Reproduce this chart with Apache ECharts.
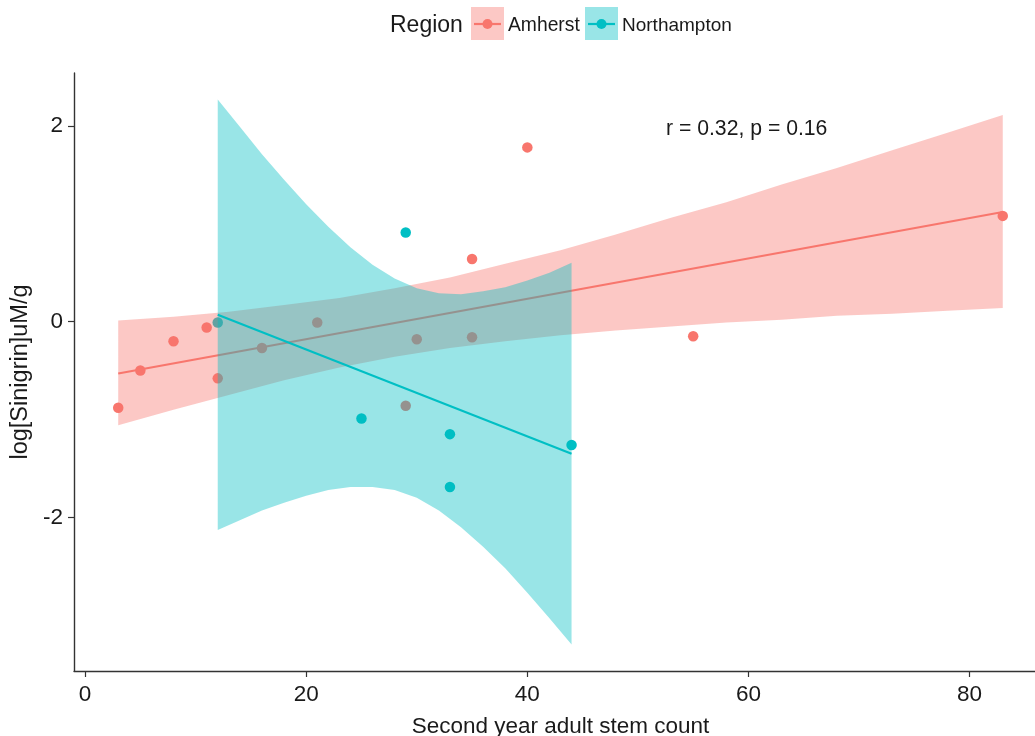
<!DOCTYPE html>
<html>
<head>
<meta charset="utf-8">
<script src="https://cdn.jsdelivr.net/npm/echarts@6/dist/echarts.min.js"></script>
<style>
  html, body { margin: 0; padding: 0; background: #ffffff; }
  #chart { width: 1035px; height: 736px; }
</style>
</head>
<body>
<div id="chart"></div>
<script>
// Observations per region
const amherstX = [3, 5, 8, 11, 12, 16, 21, 29, 30, 35, 35, 40, 55, 83];
const amherstY = [-0.88, -0.50, -0.20, -0.06, -0.58, -0.27, -0.01, -0.86, -0.18, -0.16, 0.64, 1.78, -0.15, 1.08];
const northX = [12, 25, 29, 33, 33, 44];
const northY = [-0.01, -0.99, 0.91, -1.15, -1.69, -1.26];

// Linear fit end points
const amherstFitX = [3, 83];
const amherstFitY = [-0.53, 1.12];
const northFitX = [12, 44];
const northFitY = [0.07, -1.35];

// 95% confidence bands
const amherstBandX = [3, 8, 13, 18, 23, 28, 33, 38, 43, 48, 53, 58, 63, 68, 73, 78, 83];
const amherstBandUpper = [0.01, 0.05, 0.10, 0.17, 0.24, 0.34, 0.45, 0.59, 0.73, 0.89, 1.06, 1.22, 1.40, 1.57, 1.75, 1.93, 2.11];
const amherstBandLower = [-1.06, -0.90, -0.75, -0.60, -0.47, -0.36, -0.27, -0.20, -0.14, -0.09, -0.05, -0.01, 0.02, 0.06, 0.08, 0.11, 0.14];
const northBandX = [12, 14, 16, 18, 20, 22, 24, 26, 28, 30, 32, 34, 36, 38, 40, 42, 44];
const northBandUpper = [2.27, 1.99, 1.71, 1.45, 1.20, 0.97, 0.76, 0.58, 0.44, 0.34, 0.29, 0.28, 0.31, 0.35, 0.42, 0.50, 0.60];
const northBandLower = [-2.13, -2.03, -1.93, -1.85, -1.78, -1.72, -1.69, -1.69, -1.72, -1.80, -1.93, -2.10, -2.30, -2.52, -2.77, -3.03, -3.30];

// Axis ticks and text
const xTicks = [0, 20, 40, 60, 80];
const yTicks = [-2, 0, 2];
const regionNames = ['Amherst', 'Northampton'];
const corLabel = 'r = 0.32, p = 0.16';

const FONT = '"Liberation Sans", Arial, sans-serif';
const RED = '#F8766D';
const CYAN = '#00BFC4';
const RED_FILL = 'rgba(248,118,109,0.4)';
const CYAN_FILL = 'rgba(0,191,196,0.4)';
const INK = '#1a1a1a';
const AXIS = '#333333';

const pairs = (xs, ys) => xs.map((x, i) => [x, ys[i]]);

function bandSeries(name, xs, up, lo, fill, z) {
  return {
    type: 'custom',
    name: name,
    z: z,
    silent: true,
    data: xs.map((x, i) => [x, up[i], lo[i]]),
    encode: { x: 0, y: [1, 2] },
    renderItem: function (params, api) {
      if (params.dataIndex !== 0) return null;
      const pts = [];
      for (let i = 0; i < xs.length; i++) pts.push(api.coord([xs[i], up[i]]));
      for (let i = xs.length - 1; i >= 0; i--) pts.push(api.coord([xs[i], lo[i]]));
      return { type: 'polygon', shape: { points: pts }, style: { fill: fill } };
    }
  };
}

function fitSeries(name, xs, ys, color, z) {
  return {
    type: 'line',
    name: name,
    z: z,
    silent: true,
    data: pairs(xs, ys),
    symbol: 'none',
    lineStyle: { color: color, width: 2.2 }
  };
}

function pointSeries(name, xs, ys, color) {
  return {
    type: 'scatter',
    name: name,
    z: 1,
    data: pairs(xs, ys),
    symbol: 'circle',
    symbolSize: 10.5,
    itemStyle: { color: color, opacity: 1 }
  };
}

// Legend drawn as key boxes: ribbon fill, line and point
function legendKey(x, fill, color) {
  return [
    { type: 'rect', shape: { x: x, y: 7, width: 33, height: 33 }, style: { fill: fill } },
    { type: 'line', shape: { x1: x + 3, y1: 24, x2: x + 30, y2: 24 }, style: { stroke: color, lineWidth: 2.2 } },
    { type: 'circle', shape: { cx: x + 16.5, cy: 24, r: 5 }, style: { fill: color } }
  ];
}

const chart = echarts.init(document.getElementById('chart'), null, { renderer: 'canvas' });

chart.setOption({
  animation: false,
  backgroundColor: '#ffffff',
  grid: { left: 74, top: 73, width: 973, height: 598, containLabel: false, outerBoundsMode: 'none' },
  xAxis: {
    type: 'value',
    min: -1,
    max: 87,
    name: 'Second year adult stem count',
    nameLocation: 'middle',
    nameGap: 44,
    nameTextStyle: { fontSize: 22.5, color: INK, fontFamily: FONT },
    axisLine: { show: true, onZero: false, lineStyle: { color: AXIS, width: 1.4 } },
    axisTick: { show: true, length: 6, customValues: xTicks, lineStyle: { color: AXIS, width: 1.2 } },
    axisLabel: { customValues: xTicks, fontSize: 22.5, color: INK, fontFamily: FONT, margin: 12 },
    splitLine: { show: false }
  },
  yAxis: {
    type: 'value',
    min: -3.57,
    max: 2.54,
    name: 'log[Sinigrin]uM/g',
    nameLocation: 'middle',
    nameRotate: 90,
    nameGap: 41,
    nameTextStyle: { fontSize: 23.5, color: INK, fontFamily: FONT },
    axisLine: { show: true, onZero: false, lineStyle: { color: AXIS, width: 1.4 } },
    axisTick: { show: true, length: 6, customValues: yTicks, lineStyle: { color: AXIS, width: 1.2 } },
    axisLabel: { customValues: yTicks, fontSize: 22.5, color: INK, fontFamily: FONT, margin: 11 },
    splitLine: { show: false }
  },
  series: [
    pointSeries(regionNames[0], amherstX, amherstY, RED),
    pointSeries(regionNames[1], northX, northY, CYAN),
    bandSeries(regionNames[0] + ' band', amherstBandX, amherstBandUpper, amherstBandLower, RED_FILL, 2),
    fitSeries(regionNames[0] + ' fit', amherstFitX, amherstFitY, RED, 3),
    bandSeries(regionNames[1] + ' band', northBandX, northBandUpper, northBandLower, CYAN_FILL, 4),
    fitSeries(regionNames[1] + ' fit', northFitX, northFitY, CYAN, 5)
  ],
  graphic: [
    { type: 'text', x: 390, y: 26, style: { text: 'Region', font: '23px ' + FONT, fill: INK, verticalAlign: 'middle', align: 'left' } },
    ...legendKey(471, RED_FILL, RED),
    { type: 'text', x: 508, y: 26, style: { text: regionNames[0], font: '19.3px ' + FONT, fill: INK, verticalAlign: 'middle', align: 'left' } },
    ...legendKey(585, CYAN_FILL, CYAN),
    { type: 'text', x: 622, y: 26, style: { text: regionNames[1], font: '19px ' + FONT, fill: INK, verticalAlign: 'middle', align: 'left' } },
    { type: 'text', x: 666, y: 129, style: { text: corLabel, font: '21.2px ' + FONT, fill: INK, verticalAlign: 'middle', align: 'left' } }
  ]
});
</script>
</body>
</html>
